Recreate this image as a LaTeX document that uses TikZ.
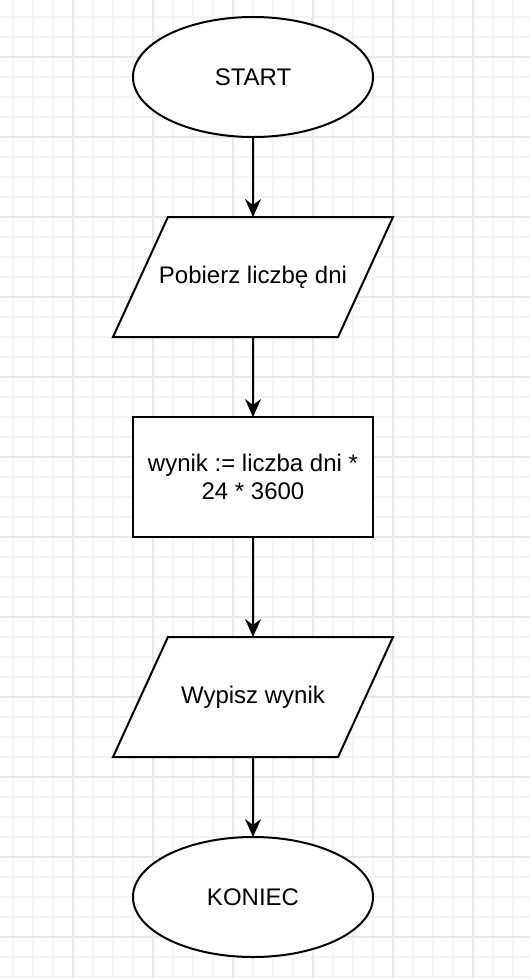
\documentclass[tikz,border=0pt]{standalone}
\usepackage{fontspec}
\setmainfont{Liberation Sans}
\usetikzlibrary{shapes.geometric,arrows.meta}

\begin{document}
\begin{tikzpicture}[
  x = 1pt, y = -1pt,
  font = \fontsize{24}{28}\selectfont,
  % The page is a sheet of squared paper, the chart sits on top of it.
  minorgrid/.style = {draw=black!4, line width=1.2pt},
  majorgrid/.style = {draw=black!9, line width=1.2pt},
  terminal/.style  = {ellipse, draw, line width=2pt, fill=white,
                      minimum width=240pt, minimum height=120pt,
                      inner sep=0pt, outer sep=0pt},
  process/.style   = {rectangle, draw, line width=2pt, fill=white, align=center,
                      minimum width=240pt, minimum height=120pt, outer sep=0pt},
  % height comes from the text box (17+5+2*49 = 120), so the slant keeps its angle;
  % the text may run over the inner box, as in the original
  io/.style        = {trapezium, trapezium left angle=65.4,
                      trapezium right angle=114.6, trapezium stretches body=true,
                      draw, line width=2pt, fill=white,
                      text height=17pt, text depth=5pt, inner ysep=49pt,
                      inner xsep=-12pt, minimum width=280pt, outer sep=0pt},
  flow/.style      = {-{Stealth[length=18pt, width=16pt, inset=6pt]}, line width=2pt},
]

\useasboundingbox (0, 0) rectangle (530, 978);
\fill[white] (0, 0) rectangle (530, 978);

% --- grid: a thin line every 20, a darker one every 80
\foreach \gx in {13,33,...,513}
  \draw[minorgrid] (\gx, 0) -- (\gx, 978);
\foreach \gy in {17,37,...,977}
  \draw[minorgrid] (0, \gy) -- (530, \gy);
\foreach \gx in {73,153,...,473}
  \draw[majorgrid] (\gx, 0) -- (\gx, 978);
\foreach \gy in {57,137,...,937}
  \draw[majorgrid] (0, \gy) -- (530, \gy);

% --- steps of the chart, top to bottom
\node[terminal] (start)  at (253, 77)  {START};
\node[io]       (input)  at (253, 277) {Pobierz liczbę dni};
\node[process]  (calc)   at (253, 477) {wynik := liczba dni *\\24 * 3600};
\node[io]       (output) at (253, 697) {Wypisz wynik};
\node[terminal] (stop)   at (253, 897) {KONIEC};

% --- arrows
\draw[flow] (start.south)  -- (input.north);
\draw[flow] (input.south)  -- (calc.north);
\draw[flow] (calc.south)   -- (output.north);
\draw[flow] (output.south) -- (stop.north);

\end{tikzpicture}
\end{document}
